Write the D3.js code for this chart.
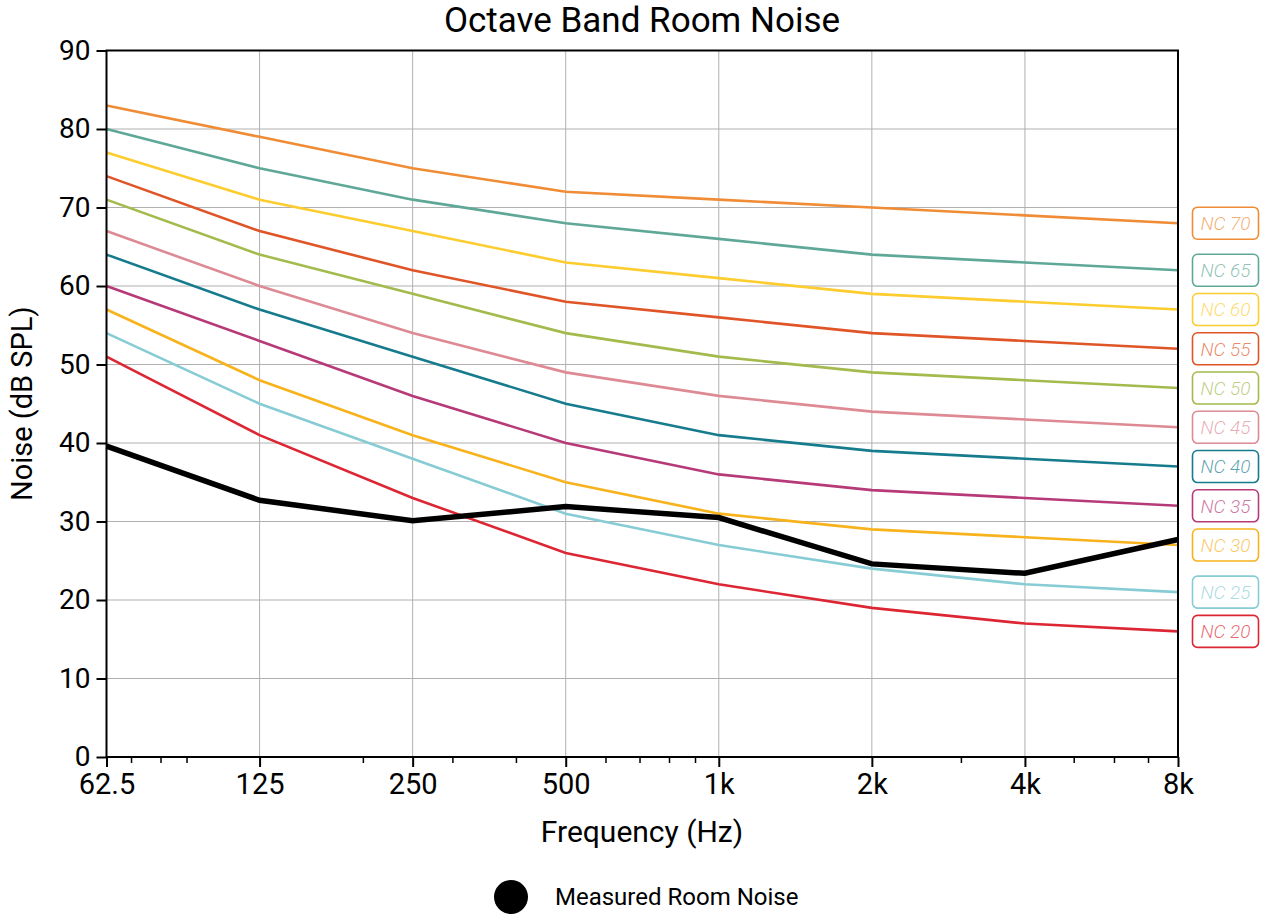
<!DOCTYPE html>
<html>
<head>
<meta charset="utf-8">
<script src="https://cdn.jsdelivr.net/npm/d3@7"></script>
<style>
  html, body { margin: 0; padding: 0; background: #fff; }
  svg { display: block; font-family: Roboto, "Noto Sans", sans-serif; }
</style>
</head>
<body>
<div id="chart"></div>
<script>
// octave band centres and their tick labels
const freqs = [62.5, 125, 250, 500, 1000, 2000, 4000, 8000];
const freqLabels = ["62.5", "125", "250", "500", "1k", "2k", "4k", "8k"];
const minorFreqs = [70, 80, 90, 200, 300, 400, 600, 700, 800, 900, 3000, 5000, 6000, 7000];
const yTicks = [0, 10, 20, 30, 40, 50, 60, 70, 80, 90];

// NC curves (dB SPL per octave band)
const ncNames = ["NC 70", "NC 65", "NC 60", "NC 55", "NC 50", "NC 45", "NC 40", "NC 35", "NC 30", "NC 25", "NC 20"];
const ncColors = ["#ef8c35", "#5fa898", "#fdcc2e", "#e05527", "#a3ba4c", "#de8a94", "#157b8d", "#b73a78", "#f7b21c", "#87ccd4", "#dd2634"];
const nc70 = [83, 79, 75, 72, 71, 70, 69, 68];
const nc65 = [80, 75, 71, 68, 66, 64, 63, 62];
const nc60 = [77, 71, 67, 63, 61, 59, 58, 57];
const nc55 = [74, 67, 62, 58, 56, 54, 53, 52];
const nc50 = [71, 64, 59, 54, 51, 49, 48, 47];
const nc45 = [67, 60, 54, 49, 46, 44, 43, 42];
const nc40 = [64, 57, 51, 45, 41, 39, 38, 37];
const nc35 = [60, 53, 46, 40, 36, 34, 33, 32];
const nc30 = [57, 48, 41, 35, 31, 29, 28, 27];
const nc25 = [54, 45, 38, 31, 27, 24, 22, 21];
const nc20 = [51, 41, 33, 26, 22, 19, 17, 16];
const ncValues = [nc70, nc65, nc60, nc55, nc50, nc45, nc40, nc35, nc30, nc25, nc20];

// measured room noise
const measured = [39.6, 32.7, 30.1, 31.9, 30.5, 24.6, 23.4, 27.7];

const W = 1265, H = 917;
const svg = d3.select("#chart").append("svg")
  .attr("width", W)
  .attr("height", H);

const x = d3.scaleLog().domain([62.5, 8000]).range([106.5, 1178]);
const y = d3.scaleLinear().domain([0, 90]).range([757, 50.5]);

// grid
const grid = svg.append("g").attr("stroke", "#b0b0b0").attr("stroke-width", 1);
grid.selectAll("line.gx").data(freqs).enter().append("line")
  .attr("x1", d => x(d)).attr("x2", d => x(d))
  .attr("y1", y(0)).attr("y2", y(90));
grid.selectAll("line.gy").data(yTicks).enter().append("line")
  .attr("x1", x(62.5)).attr("x2", x(8000))
  .attr("y1", d => y(d)).attr("y2", d => y(d));

// NC curves
const line = d3.line().x((d, i) => x(freqs[i])).y(d => y(d));
svg.append("g").selectAll("path").data(ncValues).enter().append("path")
  .attr("d", line)
  .attr("fill", "none")
  .attr("stroke", (d, i) => ncColors[i])
  .attr("stroke-width", 2.6);

// measured
svg.append("path")
  .attr("d", line(measured))
  .attr("fill", "none")
  .attr("stroke", "#000")
  .attr("stroke-width", 5.5)
  .attr("stroke-linejoin", "miter");

// frame
svg.append("rect")
  .attr("x", x(62.5)).attr("y", y(90))
  .attr("width", x(8000) - x(62.5)).attr("height", y(0) - y(90))
  .attr("fill", "none").attr("stroke", "#000").attr("stroke-width", 2);

// axes
const xAxis = d3.axisBottom(x).tickValues(freqs).tickFormat((d, i) => freqLabels[i])
  .tickSize(10).tickPadding(6);
const gx = svg.append("g").attr("transform", `translate(0,${y(0)})`).call(xAxis);
gx.select(".domain").remove();
gx.selectAll(".tick line").attr("stroke-width", 2);
gx.selectAll("text").attr("font-size", 29).attr("fill", "#000").attr("font-family", "Roboto");

svg.append("g").attr("stroke", "#000").attr("stroke-width", 1.5)
  .selectAll("line").data(minorFreqs).enter().append("line")
  .attr("x1", d => x(d)).attr("x2", d => x(d))
  .attr("y1", y(0)).attr("y2", y(0) + 6);

const yAxis = d3.axisLeft(y).tickValues(yTicks).tickSize(10).tickPadding(6);
const gy = svg.append("g").attr("transform", `translate(${x(62.5)},0)`).call(yAxis);
gy.select(".domain").remove();
gy.selectAll(".tick line").attr("stroke-width", 2);
gy.selectAll("text").attr("font-size", 28).attr("fill", "#000").attr("font-family", "Roboto");

// NC labels at the right
const labels = svg.append("g").selectAll("g").data(ncNames).enter().append("g")
  .attr("transform", (d, i) => `translate(1225.5,${y(ncValues[i][7])})`);
labels.append("rect")
  .attr("x", -33).attr("y", -16).attr("width", 66).attr("height", 32)
  .attr("rx", 5).attr("ry", 5)
  .attr("fill", "#fff")
  .attr("stroke", (d, i) => ncColors[i])
  .attr("stroke-width", 1.6);
labels.append("text")
  .attr("text-anchor", "middle")
  .attr("dy", "0.36em")
  .attr("font-size", 19)
  .attr("font-style", "italic")
  .attr("font-weight", 300)
  .attr("fill", (d, i) => ncColors[i])
  .attr("fill-opacity", 0.7)
  .text(d => d);

// titles
svg.append("text")
  .attr("x", 642).attr("y", 32)
  .attr("text-anchor", "middle")
  .attr("font-size", 35)
  .text("Octave Band Room Noise");

svg.append("text")
  .attr("x", 642).attr("y", 842)
  .attr("text-anchor", "middle")
  .attr("font-size", 30)
  .text("Frequency (Hz)");

svg.append("text")
  .attr("transform", `translate(32,${(y(0) + y(90)) / 2}) rotate(-90)`)
  .attr("text-anchor", "middle")
  .attr("font-size", 29)
  .text("Noise (dB SPL)");

// legend
svg.append("circle").attr("cx", 511).attr("cy", 897).attr("r", 17).attr("fill", "#000");
svg.append("text")
  .attr("x", 555).attr("y", 905)
  .attr("font-size", 24)
  .text("Measured Room Noise");
</script>
</body>
</html>
